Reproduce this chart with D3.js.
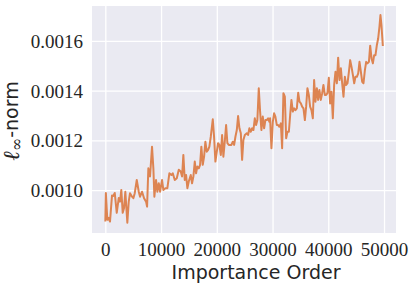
<!DOCTYPE html>
<html>
<head>
<meta charset="utf-8">
<script src="https://cdn.jsdelivr.net/npm/d3@7/dist/d3.min.js"></script>
<style>
  body { margin: 0; background: #fff; }
  svg { display: block; }
</style>
</head>
<body>
<div id="chart"></div>
<script>
// importance order (x) and l-inf norm (y)
var orderIdx = [0, 100, 360, 610, 840, 1200, 1440, 1690, 2050, 2410, 2640, 2870, 3120, 3360, 3590, 3950,
  4200, 4430, 4790, 5030, 5280, 5640, 6000, 6230, 6590, 6950, 7310, 7490, 7720, 8020, 8380, 8620,
  8800, 9100, 9330, 9590, 9820, 10180, 10410, 10770, 11130, 11490, 11850, 12100, 12460, 12820, 13180, 13530,
  13770, 14000, 14250, 14490, 14720, 14970, 15330, 15560, 15800, 16050, 16280, 16510, 16770, 17000, 17230, 17480,
  17720, 17950, 18200, 18440, 18670, 18920, 19280, 19510, 19750, 20000, 20230, 20460, 20720, 20950, 21180, 21430,
  21670, 21900, 22150, 22390, 22620, 22870, 23110, 23340, 23590, 23820, 24060, 24310, 24540, 24770, 25030, 25380,
  25610, 25850, 26100, 26330, 26570, 26820, 27050, 27280, 27530, 27770, 28000, 28250, 28490, 28720, 28970, 29200,
  29440, 29560, 29800, 30050, 30280, 30510, 30770, 31000, 31230, 31490, 31720, 31950, 32210, 32440, 32680, 32930,
  33160, 33390, 33640, 33880, 34110, 34360, 34600, 34830, 35080, 35310, 35550, 35800, 36030, 36260, 36510, 36740,
  36980, 37230, 37460, 37700, 37950, 38180, 38410, 38660, 38900, 39130, 39380, 39620, 39850, 40100, 40330, 40570,
  40820, 41050, 41290, 41540, 41770, 42010, 42260, 42490, 42730, 42980, 43210, 43450, 43700, 43930, 44170, 44420,
  44650, 44880, 45130, 45370, 45600, 45850, 46090, 46320, 46570, 46800, 47040, 47290, 47520, 47760, 48000, 48230,
  48470, 48720, 48950, 49180, 49360, 49540, 49790];

var linfNorm = [0.000874, 0.000989, 0.000881, 0.000889, 0.000874, 0.000979, 0.000977, 0.000989, 0.000909, 0.000969, 0.000954, 0.001001, 0.000909, 0.000929, 0.000994, 0.000869,
  0.000954, 0.000988, 0.000974, 0.000968, 0.000988, 0.001041, 0.000994, 0.000974, 0.000994, 0.000968, 0.000954, 0.000934, 0.001088, 0.001055, 0.001175, 0.001088,
  0.000974, 0.001041, 0.000994, 0.001028, 0.000994, 0.001041, 0.001001, 0.001008, 0.001008, 0.001068, 0.001061, 0.001068, 0.001041, 0.001048, 0.001082, 0.001075,
  0.001055, 0.001142, 0.001041, 0.001061, 0.001008, 0.001035, 0.001061, 0.001028, 0.001055, 0.001115, 0.001068, 0.001095, 0.001088, 0.001102, 0.001175, 0.001102,
  0.001135, 0.001195, 0.001155, 0.001162, 0.001175, 0.001215, 0.001285, 0.001215, 0.001115, 0.001155, 0.001189, 0.001182, 0.001142, 0.001222, 0.001135, 0.001195,
  0.001262, 0.001189, 0.001182, 0.001182, 0.001182, 0.001195, 0.001182, 0.001215, 0.001242, 0.001298, 0.001249, 0.001229, 0.001122, 0.001202, 0.001222, 0.001229,
  0.001222, 0.001249, 0.001235, 0.001249, 0.001242, 0.001289, 0.001262, 0.001282, 0.001410, 0.001316, 0.001242, 0.001296, 0.001249, 0.001282, 0.001282, 0.001289,
  0.001275, 0.001289, 0.001169, 0.001275, 0.001309, 0.001296, 0.001262, 0.001262, 0.001255, 0.001269, 0.001169, 0.001390, 0.001376, 0.001209, 0.001235, 0.001235,
  0.001302, 0.001363, 0.001316, 0.001329, 0.001322, 0.001329, 0.001392, 0.001356, 0.001349, 0.001336, 0.001329, 0.001282, 0.001336, 0.001410, 0.001383, 0.001336,
  0.001322, 0.001289, 0.001443, 0.001356, 0.001410, 0.001363, 0.001403, 0.001363, 0.001390, 0.001423, 0.001383, 0.001383, 0.001390, 0.001452, 0.001349, 0.001396,
  0.001289, 0.001423, 0.001476, 0.001430, 0.001533, 0.001443, 0.001490, 0.001430, 0.001376, 0.001456, 0.001423, 0.001430, 0.001476, 0.001523, 0.001496, 0.001463,
  0.001430, 0.001456, 0.001456, 0.001470, 0.001516, 0.001476, 0.001436, 0.001430, 0.001483, 0.001516, 0.001510, 0.001516, 0.001581, 0.001530, 0.001510, 0.001543,
  0.001543, 0.001584, 0.001610, 0.001657, 0.001704, 0.001664, 0.001580];

var xTicks = [0, 10000, 20000, 30000, 40000, 50000];
var yTicks = [0.0010, 0.0012, 0.0014, 0.0016];

var W = 415, H = 290;
var margin = { top: 6, right: 19, bottom: 57, left: 92 };
var width = W - margin.left - margin.right;
var height = H - margin.top - margin.bottom;

var svg = d3.select("#chart").append("svg")
  .attr("width", W)
  .attr("height", H);

var g = svg.append("g")
  .attr("transform", "translate(" + margin.left + "," + margin.top + ")");

var x = d3.scaleLinear().domain([-2390, 52150]).range([0, width]);
var y = d3.scaleLinear().domain([0.000828, 0.0017406]).range([height, 0]);

// darkgrid background
g.append("rect")
  .attr("width", width)
  .attr("height", height)
  .attr("fill", "#eaeaf2");

var xAxis = g.append("g")
  .attr("transform", "translate(0," + height + ")")
  .call(d3.axisBottom(x).tickValues(xTicks).tickSize(-height).tickPadding(9)
    .tickFormat(d3.format("d")));

var yAxis = g.append("g")
  .call(d3.axisLeft(y).tickValues(yTicks).tickSize(-width).tickPadding(9)
    .tickFormat(d3.format(".4f")));

[xAxis, yAxis].forEach(function(a){
  a.attr("font-family", null).attr("font-size", null);
  a.select(".domain").remove();
  a.selectAll(".tick line").attr("stroke", "#fff").attr("stroke-width", 1.3);
  a.selectAll(".tick text")
    .attr("fill", "#262626")
    .style("font-family", "'Liberation Serif', 'DejaVu Serif', serif")
    .style("font-size", "19px");
});
yAxis.selectAll(".tick text").attr("dy", "0.33em");
xAxis.selectAll(".tick text").attr("dy", "0.75em");

var line = d3.line()
  .x(function(d, i){ return x(orderIdx[i]); })
  .y(function(d){ return y(d); });

g.append("path")
  .datum(linfNorm)
  .attr("fill", "none")
  .attr("stroke", "#dd8452")
  .attr("stroke-width", 2)
  .attr("stroke-linejoin", "round")
  .attr("d", line);

// axis labels
svg.append("text")
  .attr("x", margin.left + width / 2 + 12)
  .attr("y", 279)
  .attr("text-anchor", "middle")
  .attr("fill", "#262626")
  .style("font-family", "'DejaVu Sans', sans-serif")
  .style("font-size", "19px")
  .text("Importance Order");

var yl = svg.append("text")
  .attr("transform", "translate(19," + 121 + ") rotate(-90)")
  .attr("text-anchor", "middle")
  .attr("fill", "#262626")
  .style("font-size", "19px");
yl.append("tspan")
  .style("font-family", "'Liberation Serif', serif")
  .style("font-style", "italic")
  .style("font-size", "23px")
  .text("ℓ");
yl.append("tspan")
  .attr("dy", "0.2em")
  .style("font-family", "'DejaVu Serif', serif")
  .style("font-size", "16px")
  .text("∞");
yl.append("tspan")
  .attr("dy", "-0.2em")
  .style("font-family", "'DejaVu Sans', sans-serif")
  .text("-norm");
</script>
</body>
</html>
